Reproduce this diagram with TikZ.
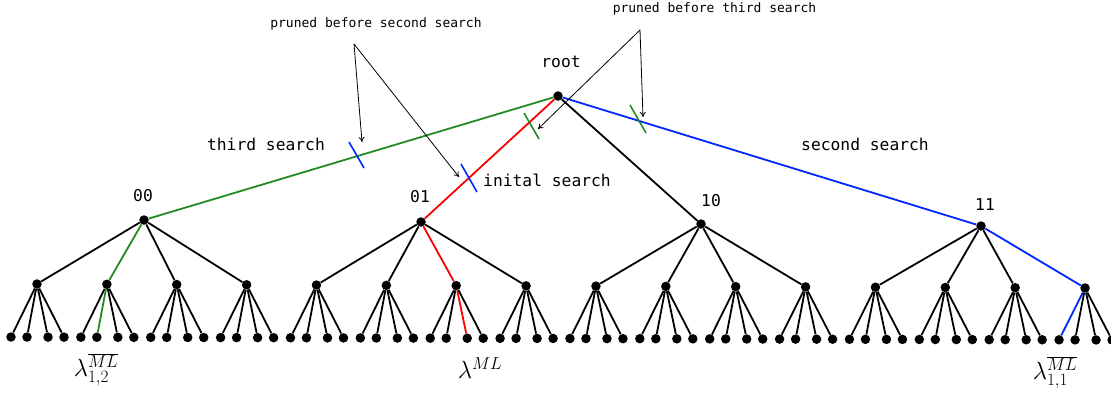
\documentclass[tikz,border=0pt]{standalone}
\usepackage{fontspec}
\newfontfamily\mono{DejaVu Sans Mono}
\usetikzlibrary{arrows.meta}
\definecolor{pgreen}{RGB}{34,139,34}
\definecolor{pblue}{RGB}{0,40,255}
\definecolor{pred}{RGB}{255,0,0}
\begin{document}
\begin{tikzpicture}[x=1pt,y=-1pt,
  dot/.style={circle,fill=black,inner sep=0pt,minimum size=9.5pt},
  edge/.style={line width=1.8pt},
  tickmark/.style={line width=1.6pt},
  pointer/.style={line width=0.8pt,-{To[length=5pt,width=6pt]}},
  lbl/.style={font=\mono\fontsize{16.3}{18}\selectfont,inner sep=0pt},
  small/.style={font=\mono\fontsize{13}{15}\selectfont,inner sep=0pt},
  lam/.style={font=\fontsize{27}{30}\selectfont,inner sep=0pt}]
\useasboundingbox (0,0) rectangle (1111,400);
% nodes
\node[dot] (root) at (558,96) {};
\node[dot] (n0) at (144,220) {};
\node[dot] (n1) at (421,222) {};
\node[dot] (n2) at (701,224) {};
\node[dot] (n3) at (981,226) {};
\foreach \i in {0,...,15} {
  \pgfmathsetmacro\mx{37+69.87*\i}
  \pgfmathsetmacro\my{284+0.0038*(\mx-37)}
  \node[dot] (m\i) at (\mx,\my) {};
  \foreach \o [count=\j] in {-26,-10,11,27} {
    \pgfmathsetmacro\lx{\mx+\o}
    \pgfmathsetmacro\ly{337+0.0027*(\lx-12)}
    \node[dot] (l\i-\j) at (\lx,\ly) {};
  }
}
% edges
\foreach \a/\b/\c in {root/n0/pgreen, root/n1/pred, root/n2/black, root/n3/pblue}
  \draw[edge,draw=\c] (\a) -- (\b);
\foreach \k in {0,...,3} {
  \foreach \q in {0,...,3} {
    \pgfmathtruncatemacro\i{4*\k+\q}
    \def\c{black}
    \ifnum\i=1 \def\c{pgreen}\fi
    \ifnum\i=6 \def\c{pred}\fi
    \ifnum\i=15 \def\c{pblue}\fi
    \draw[edge,draw=\c] (n\k) -- (m\i);
  }
}
\foreach \i in {0,...,15} {
  \foreach \j in {1,...,4} {
    \def\c{black}
    \ifnum\i=1 \ifnum\j=2 \def\c{pgreen}\fi\fi
    \ifnum\i=6 \ifnum\j=3 \def\c{pred}\fi\fi
    \ifnum\i=15 \ifnum\j=1 \def\c{pblue}\fi\fi
    \draw[edge,draw=\c] (m\i) -- (l\i-\j);
  }
}
% labels
\node[lbl] (troot) at (561,62) {root};
\node[lbl] (t00) at (143,196) {00};
\node[lbl] (t01) at (420,197) {01};
\node[lbl] (t10) at (711,201) {10};
\node[lbl] (t11) at (985,205) {11};
\node[lbl] (tthird) at (266,144) {third search};
\node[lbl] (tinit) at (547,180) {inital search};
\node[lbl] (tsecond) at (865,144) {second search};
\node[small] (p2) at (376,24) {pruned before second search};
\node[small] (p3) at (714.5,9) {pruned before third search};
\node[lam] (lam12) at (96,370) {$\lambda^{\overline{ML}}_{1,2}$};
\node[lam] (lamml) at (480,368) {$\lambda^{ML}$};
\node[lam] (lam11) at (1055,373) {$\lambda^{\overline{ML}}_{1,1}$};
% prune ticks
\draw[tickmark,pblue] (349,142) -- (364,168);
\draw[tickmark,pblue] (461,164) -- (477,192);
\draw[tickmark,pgreen] (524,113) -- (539,139);
\draw[tickmark,pgreen] (630,105) -- (646,133);
% pointers
\coordinate (a1) at (354,44);
\coordinate (e1) at (362,142);
\coordinate (e2) at (459,177);
\coordinate (a2) at (640,30);
\coordinate (e3) at (643,117);
\coordinate (e4) at (538,129);
\draw[pointer] (a1) -- (e1);
\draw[pointer] (a1) -- (e2);
\draw[pointer] (a2) -- (e3);
\draw[pointer] (a2) -- (e4);
\end{tikzpicture}
\end{document}
